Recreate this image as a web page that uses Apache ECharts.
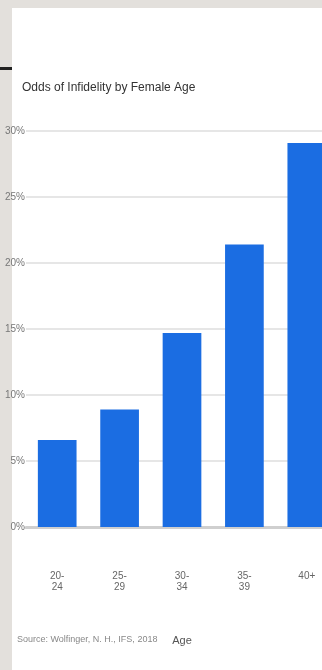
<!DOCTYPE html>
<html><head><meta charset="utf-8">
<script src="https://cdn.jsdelivr.net/npm/echarts@6/dist/echarts.min.js"></script>
<style>
html,body{margin:0;padding:0;background:#e3e0dc;}
#frame{position:absolute;left:12px;top:8px;width:310px;height:662px;background:#fff;}
#chart{position:absolute;left:0;top:0;width:322px;height:670px;}
#tick{position:absolute;left:0;top:67px;width:12px;height:3px;background:#222;}
</style></head>
<body>
<div id="frame"></div>
<div id="tick"></div>
<div id="chart"></div>
<script>
const categories = ["20-\n24", "25-\n29", "30-\n34", "35-\n39", "40+"];
const values = [6.6, 8.9, 14.7, 21.4, 29.1];
const yTicks = [0, 5, 10, 15, 20, 25, 30];
const titleText = "Odds of Infidelity by Female Age";
const sourceText = "Source: Wolfinger, N. H., IFS, 2018";
const xAxisName = "Age";

const chart = echarts.init(document.getElementById('chart'), null, {renderer:'canvas'});
chart.setOption({
  backgroundColor: 'transparent',
  animation: false,
  title: {
    text: titleText, left: 17, top: 77,
    textStyle: {fontFamily: 'Liberation Sans Narrow, Liberation Sans', fontSize: 12, fontWeight: 'normal', color: '#333'}
  },
  graphic: [{
    type: 'text', left: 17, top: 635,
    style: {text: sourceText, fontFamily: 'Liberation Sans', fontSize: 9, fill: '#888'}
  }],
  grid: {left: 26, width: 312, top: 131, bottom: 143, containLabel: false, outerBoundsMode: 'none'},
  xAxis: {
    type: 'category', data: categories,
    name: xAxisName, nameLocation: 'middle', nameGap: 108,
    nameTextStyle: {color: '#555', fontSize: 11, fontFamily: 'Liberation Sans'},
    axisLine: {lineStyle: {color: '#cfcfcf', width: 3}},
    axisTick: {show: false},
    axisLabel: {color: '#666', fontSize: 10, margin: 44, lineHeight: 11, fontFamily: 'Liberation Sans'}
  },
  yAxis: {
    type: 'value', min: yTicks[0], max: yTicks[yTicks.length-1], interval: 5,
    axisLine: {show: false}, axisTick: {show: false},
    axisLabel: {formatter: '{value}%', color: '#777', fontSize: 10, margin: 1, align: 'right', fontFamily: 'Liberation Sans'},
    splitLine: {lineStyle: {color: '#e6e6e6', width: 2}}
  },
  series: [{
    type: 'bar', data: values, barWidth: '62%',
    itemStyle: {color: '#1b6de2'}
  }]
});
</script>
</body></html>
